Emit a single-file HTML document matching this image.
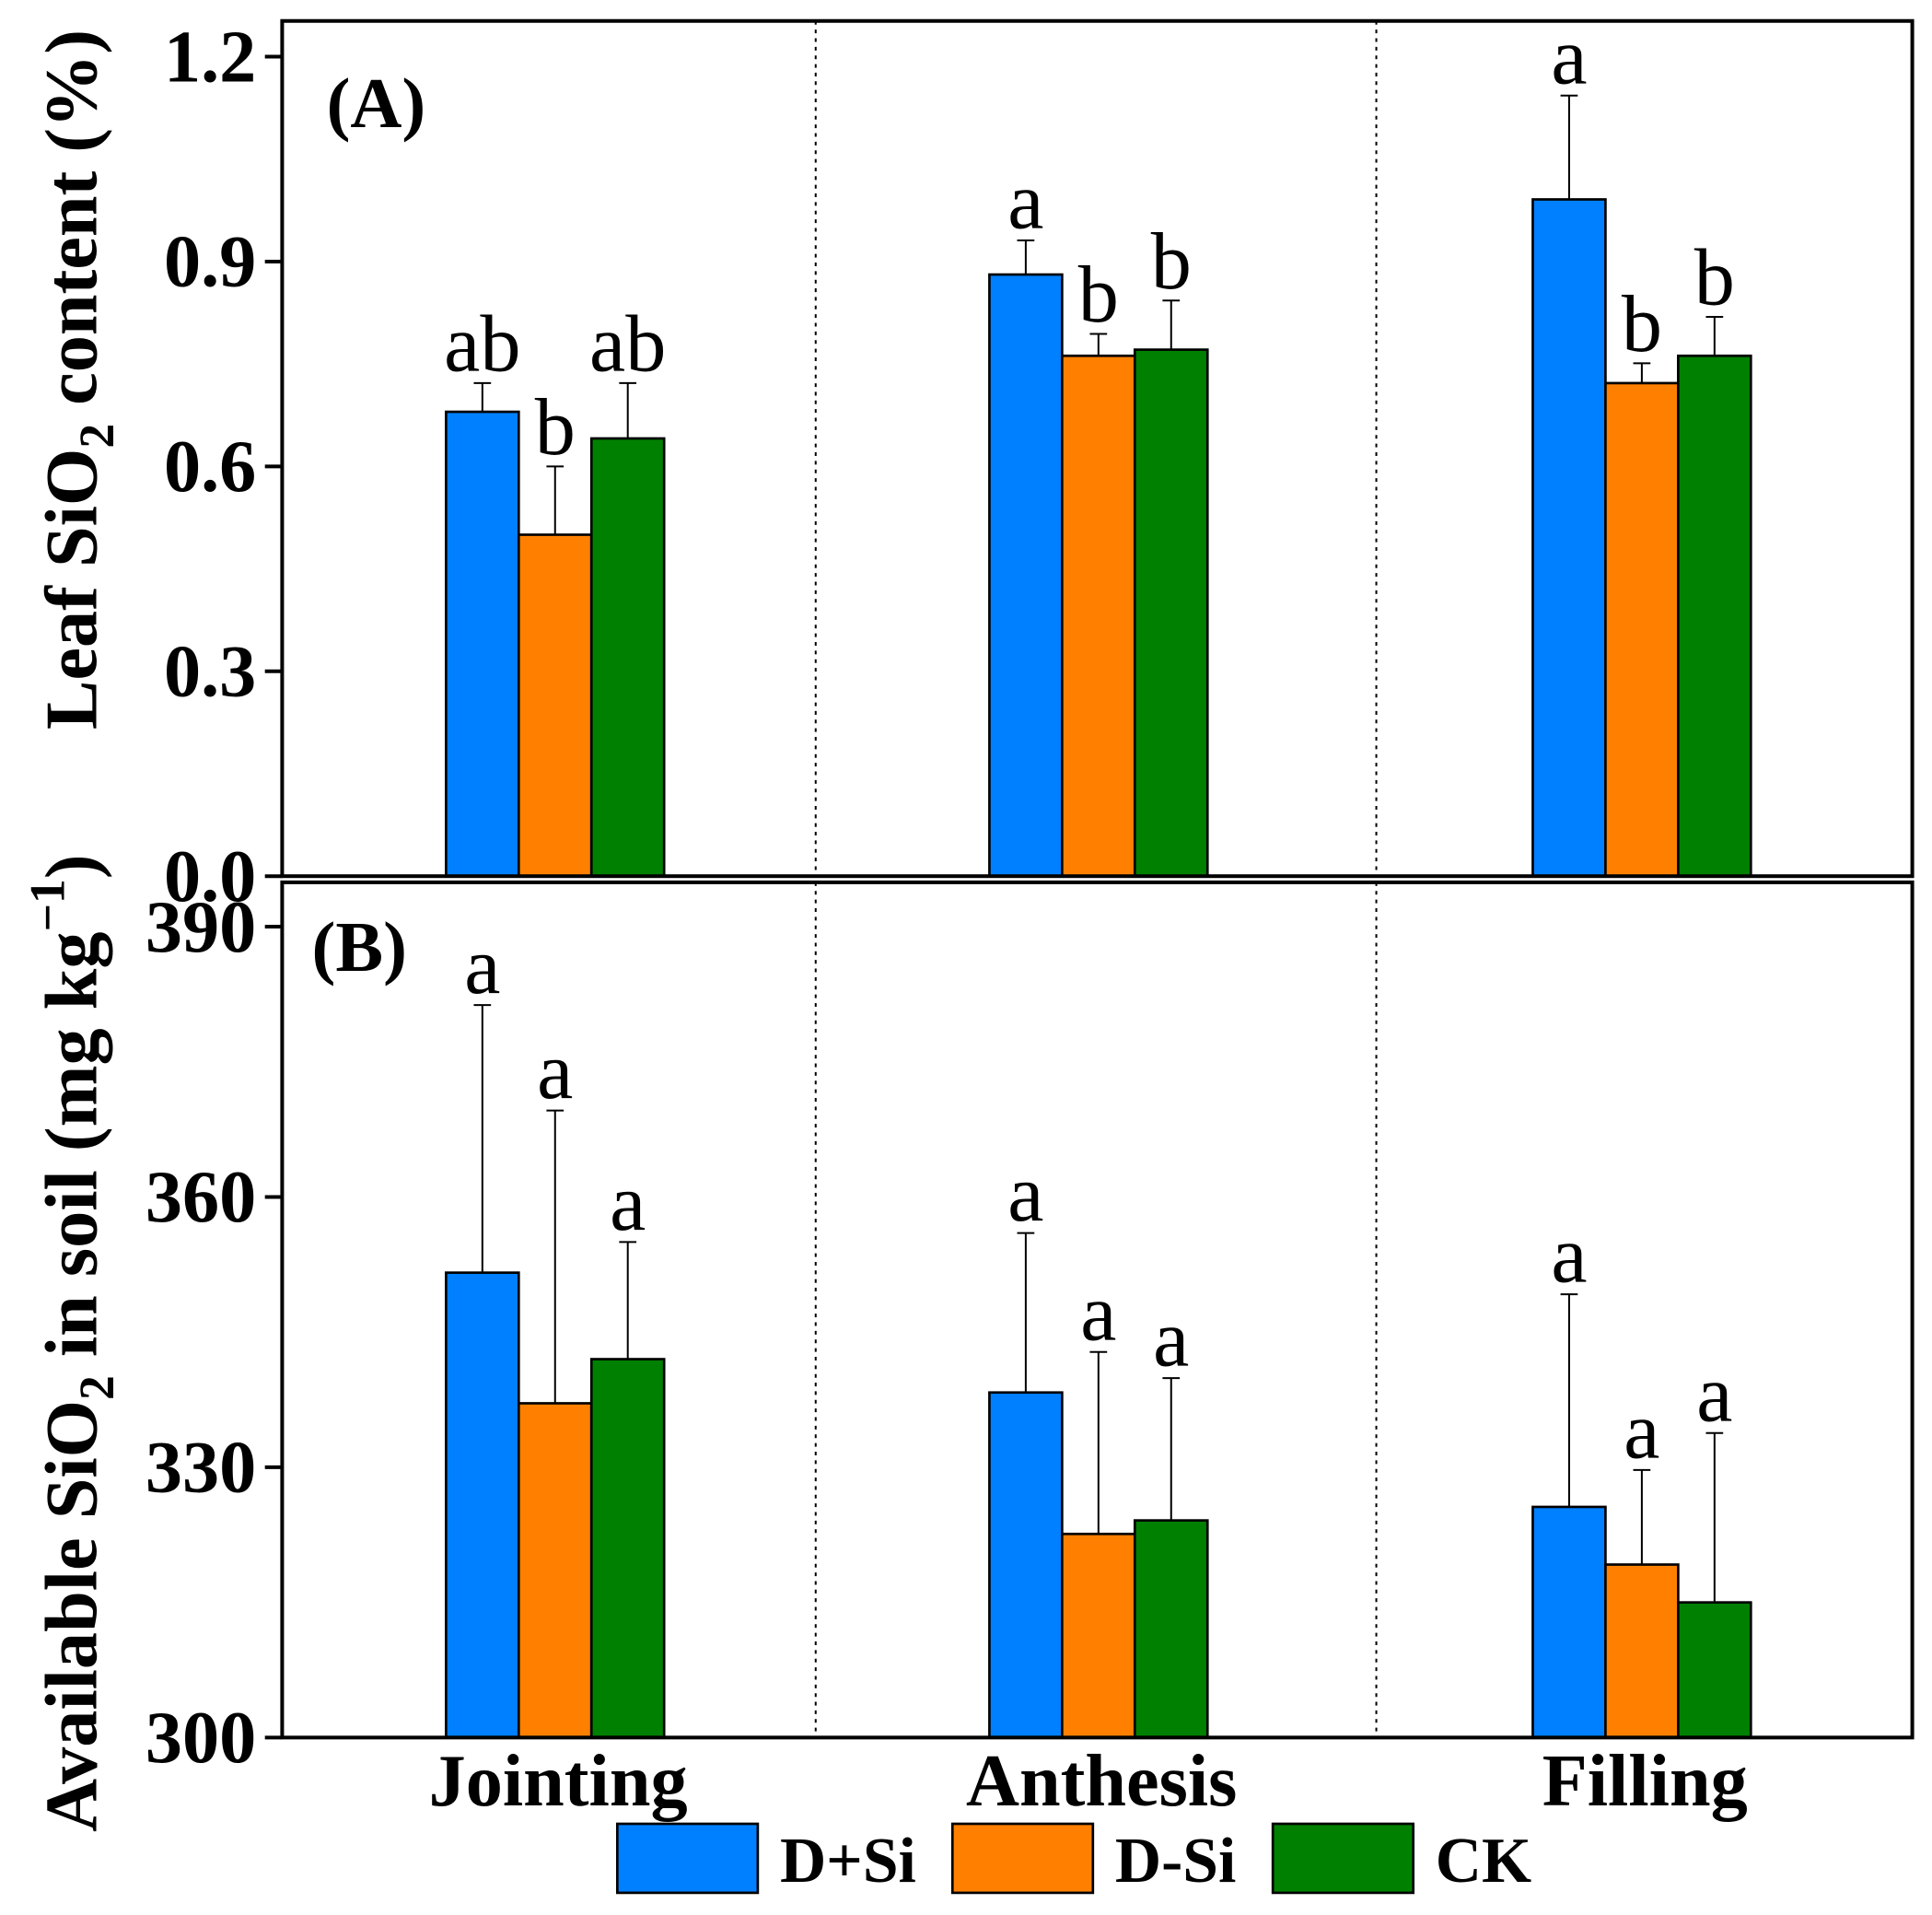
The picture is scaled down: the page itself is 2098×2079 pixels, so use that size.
<!DOCTYPE html>
<html><head><meta charset="utf-8"><style>html,body{margin:0;padding:0;background:#fff}svg{display:block}</style></head>
<body>
<svg id="chart" width="2098" height="2079" viewBox="0 0 1568 1554" preserveAspectRatio="none" xmlns="http://www.w3.org/2000/svg" font-family="'Liberation Serif', serif">
<g id="g"></g>
</svg>
<script>
const stages = ["Jointing","Anthesis","Filling"];
const treatments = ["D+Si","D-Si","CK"];
const colors = ["#0080ff","#ff8000","#008000"];
const leafMean = [[0.68,0.50,0.641],[0.881,0.762,0.771],[0.991,0.722,0.762]];
const leafErr  = [[0.722,0.60,0.722],[0.931,0.794,0.843],[1.143,0.751,0.819]];
const leafLetters = [["ab","b","ab"],["a","b","b"],["a","b","b"]];
const leafTicks = [0.0,0.3,0.6,0.9,1.2];
const leafTickLabels = ["0.0","0.3","0.6","0.9","1.2"];
const soilMean = [[351.6,337.1,342.0],[338.3,322.6,324.1],[325.6,319.2,315.0]];
const soilErr  = [[381.3,369.6,355.0],[356.0,342.8,339.9],[349.2,329.7,333.8]];
const soilLetters = [["a","a","a"],["a","a","a"],["a","a","a"]];
const soilTicks = [300,330,360,390];
const soilTickLabels = ["300","330","360","390"];

const NS="http://www.w3.org/2000/svg";
const g=document.getElementById('g');
function el(t,a,txt){const e=document.createElementNS(NS,t);for(const k in a)e.setAttribute(k,a[k]);if(txt!==undefined)e.textContent=txt;g.appendChild(e);return e;}
const L=229,R=1552;
function xBar(s,t){return 362+s*441+t*59;}
const bw=59;
function yA(v){return 711-(v/1.2)*665;}
function yB(v){return 1410-(v-300)/90*658;}

function panel(mean,err,letters,yf,ticks,labels,top,bot,name,base){
  for(let s=0;s<3;s++)for(let t=0;t<3;t++){
    const x=xBar(s,t),cx=x+bw/2;
    const ye=yf(err[s][t]),ym=yf(mean[s][t]);
    let e=el('line',{x1:cx,x2:cx,y1:ym,y2:ye,stroke:'#000','stroke-width':1.5});
    
    
    e=el('line',{x1:cx-7,x2:cx+7,y1:ye,y2:ye,stroke:'#000','stroke-width':1.5});
    
    
    e=el('rect',{x:x,y:ym,width:bw,height:yf(base)-ym,fill:colors[t],stroke:'#000','stroke-width':2});
    
    
    e=el('text',{x:cx,y:ye-10,'font-size':66,'text-anchor':'middle'},letters[s][t]);
    
    
  }
  ticks.forEach((v,i)=>{
    const y=yf(v);
    let e=el('line',{x1:L-14,x2:L,y1:y,y2:y,stroke:'#000','stroke-width':3});
    
    
    e=el('text',{x:208,y:y+20,'font-size':60,'font-weight':'bold','text-anchor':'end'},labels[i]);
    
    
  });
  let e=el('rect',{x:L,y:top,width:R-L,height:bot-top,fill:'none',stroke:'#000','stroke-width':3});
  
  
  [662,1117].forEach(x=>{
    const d=el('line',{x1:x,x2:x,y1:top,y2:bot,stroke:'#000','stroke-width':1.5,'stroke-dasharray':'3,4'});
    
    
  });
}
panel(leafMean,leafErr,leafLetters,yA,leafTicks,leafTickLabels,17,711,'leaf',0);
panel(soilMean,soilErr,soilLetters,yB,soilTicks,soilTickLabels,716,1410,'soil',300);

let t=el('text',{x:265,y:103,'font-size':58,'font-weight':'bold'},'(A)');


t=el('text',{x:253,y:788,'font-size':58,'font-weight':'bold'},'(B)');



t=el('text',{transform:'translate(78,308) rotate(-90)','font-size':60,'font-weight':'bold','text-anchor':'middle'});
t.innerHTML='Leaf SiO<tspan font-size="40" dy="14">2</tspan><tspan dy="-14"> content (%)</tspan>';


t=el('text',{transform:'translate(78,1090) rotate(-90)','font-size':60,'font-weight':'bold','text-anchor':'middle'});
t.innerHTML='Available SiO<tspan font-size="40" dy="14">2</tspan><tspan dy="-14"> in soil (mg kg</tspan><tspan font-size="40" dy="-26">−1</tspan><tspan dy="26">)</tspan>';



stages.forEach((s,i)=>{
  const e=el('text',{x:453+i*441,y:1465,'font-size':60,'font-weight':'bold','text-anchor':'middle'},s);
  
  
});
const legX=[501,773,1033];
treatments.forEach((n,i)=>{
  let e=el('rect',{x:legX[i],y:1480,width:114,height:56,fill:colors[i],stroke:'#000','stroke-width':2});
  
  
  e=el('text',{x:legX[i]+132,y:1527,'font-size':52,'font-weight':'bold'},n);
  
  
});
</script>
</body></html>
